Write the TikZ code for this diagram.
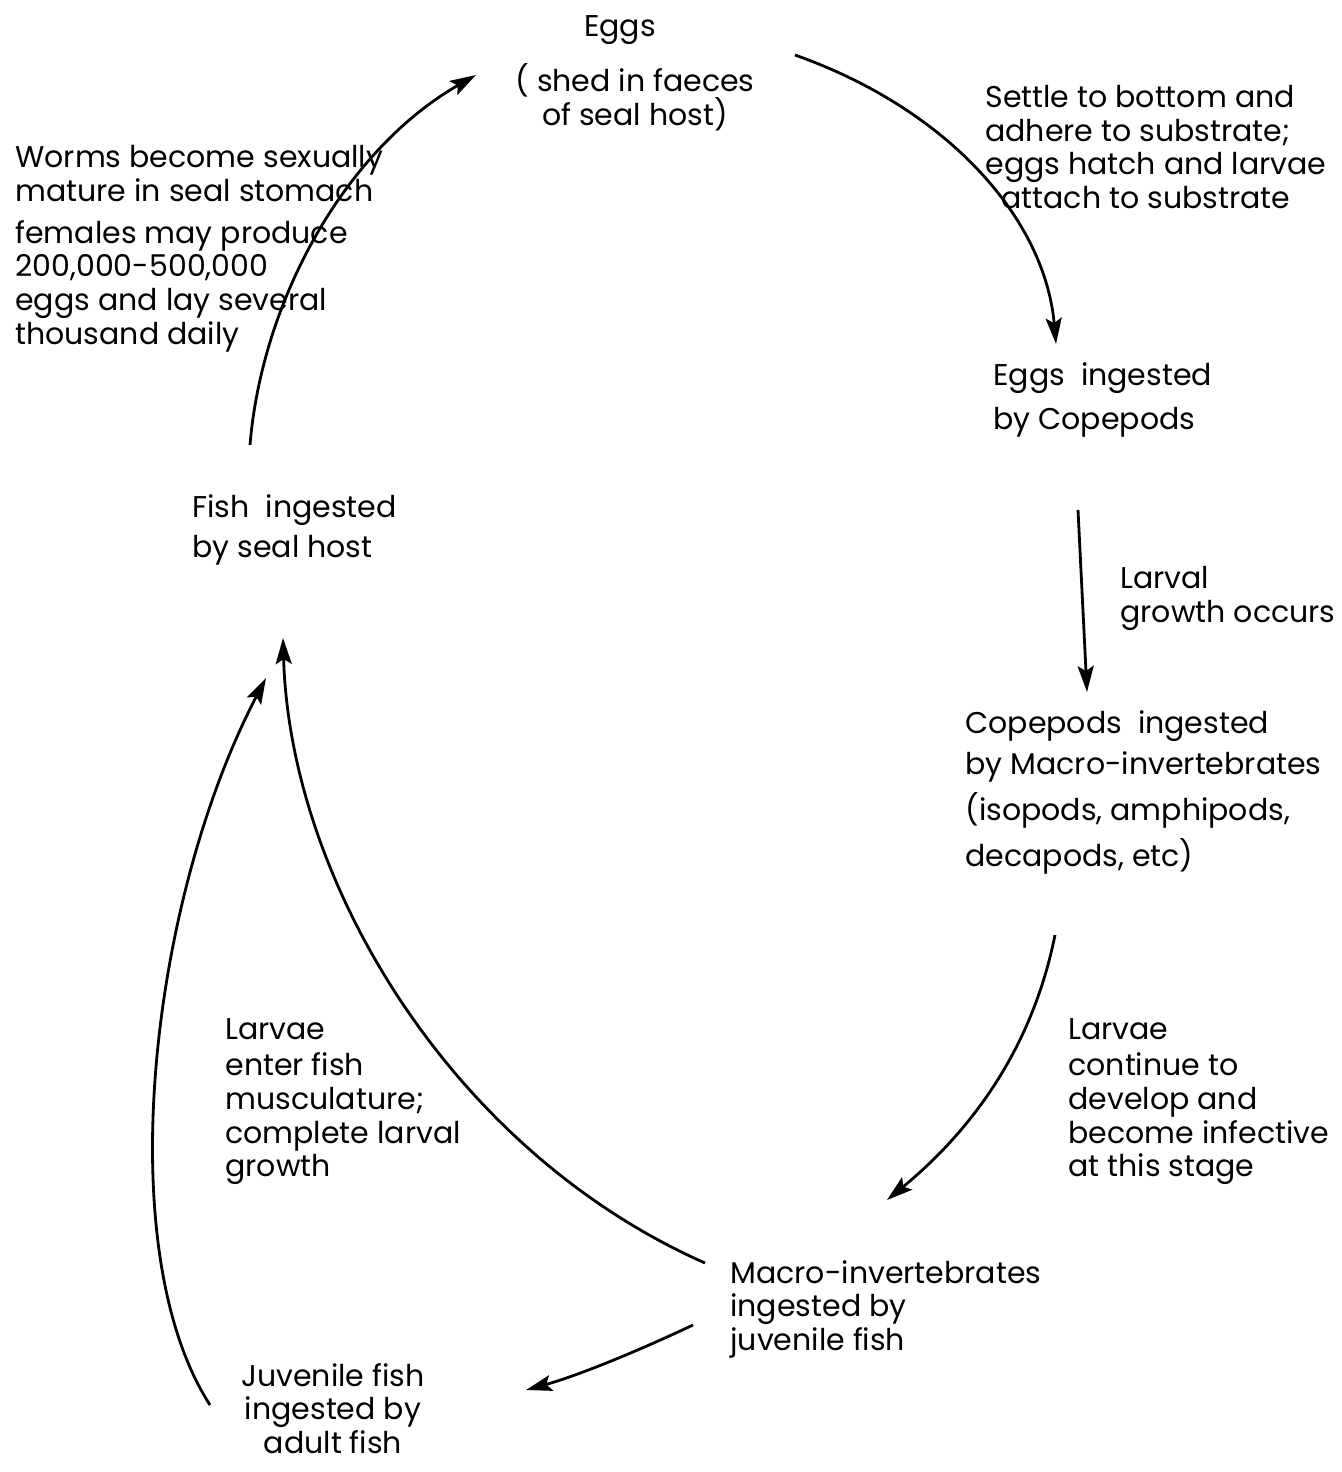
\documentclass[tikz,border=0pt]{standalone}
\usepackage{fontspec}
\setmainfont{Poppins}
\usetikzlibrary{arrows.meta}

\tikzset{
  lbl/.style={inner sep=0pt, anchor=north west, align=left, font=\fontsize{15}{16.8}\selectfont},
  lblc/.style={lbl, anchor=north, align=center},
  cyc/.style={black, line width=1.4pt, -{Stealth[length=13pt, width=8pt, inset=2.5pt]}}
}

\begin{document}
\begin{tikzpicture}[x=0.5pt, y=-0.5pt]
	\useasboundingbox (0,0) rectangle (1342,1472);

	% stage texts
	\node [lblc] at (620, 15) (eggs) {Eggs};
	\node [lblc] at (635, 63) (shed) {( shed in faeces\\of seal host)};
	\node [lbl] at (985, 85) (settle) {Settle to bottom and\\adhere to substrate;\\eggs hatch and larvae\\\ \ attach to substrate};
	\node [lbl] at (993, 362) (eggcop) {Eggs\ \ ingested\\[5.5pt]by Copepods};
	\node [lbl] at (1120, 566) (growth) {Larval\\growth occurs};
	\node [lbl] at (965, 710) (copmac) {Copepods\ \ ingested\\[4pt] by Macro-invertebrates\\[4pt](isopods, amphipods,\\[4pt] decapods, etc)};
	\node [lbl] at (1068, 1018) (infect) {Larvae\\[1.5pt]continue to\\develop and\\become infective\\at this stage};
	\node [lbl] at (730, 1260) (macjuv) {Macro-invertebrates\\ ingested by\\ juvenile fish};
	\node [lblc] at (333, 1363) (juvad) {Juvenile fish\\ingested by\\adult fish};
	\node [lbl] at (225, 1018) (muscle) {Larvae\\[1.5pt]enter fish\\musculature;\\complete larval\\growth};
	\node [lbl] at (192, 494) (fishseal) {Fish\ \ ingested\\[3.5pt]by seal host};
	\node [lbl] at (15, 145) (worms) {Worms become sexually\\mature in seal stomach};
	\node [lbl] at (15, 220) (females) {females may produce\\200,000-500,000\\eggs and lay several\\thousand daily};

	% arrow end points
	\coordinate (a0) at (250, 445);
	\coordinate (a1) at (476, 75);
	\coordinate (b0) at (795, 55);
	\coordinate (b1) at (1056, 344);
	\coordinate (c0) at (1078, 510);
	\coordinate (c1) at (1087, 692);
	\coordinate (d0) at (1055, 935);
	\coordinate (d1) at (887, 1200);
	\coordinate (e0) at (693, 1325);
	\coordinate (e1) at (526, 1390);
	\coordinate (f0) at (210, 1405);
	\coordinate (f1) at (266, 678);
	\coordinate (g0) at (705, 1263);
	\coordinate (g1) at (283, 638);

	\draw [cyc] (a0) .. controls (262, 300) and (345, 150) .. (a1);
	\draw [cyc] (b0) .. controls (950, 110) and (1045, 220) .. (b1);
	\draw [cyc] (c0) -- (c1);
	\draw [cyc] (d0) .. controls (1030, 1060) and (960, 1140) .. (d1);
	\draw [cyc] (e0) .. controls (640, 1350) and (580, 1375) .. (e1);
	\draw [cyc] (f0) .. controls (110, 1250) and (150, 900) .. (f1);
	\draw [cyc] (g0) .. controls (450, 1150) and (290, 880) .. (g1);
\end{tikzpicture}
\end{document}
